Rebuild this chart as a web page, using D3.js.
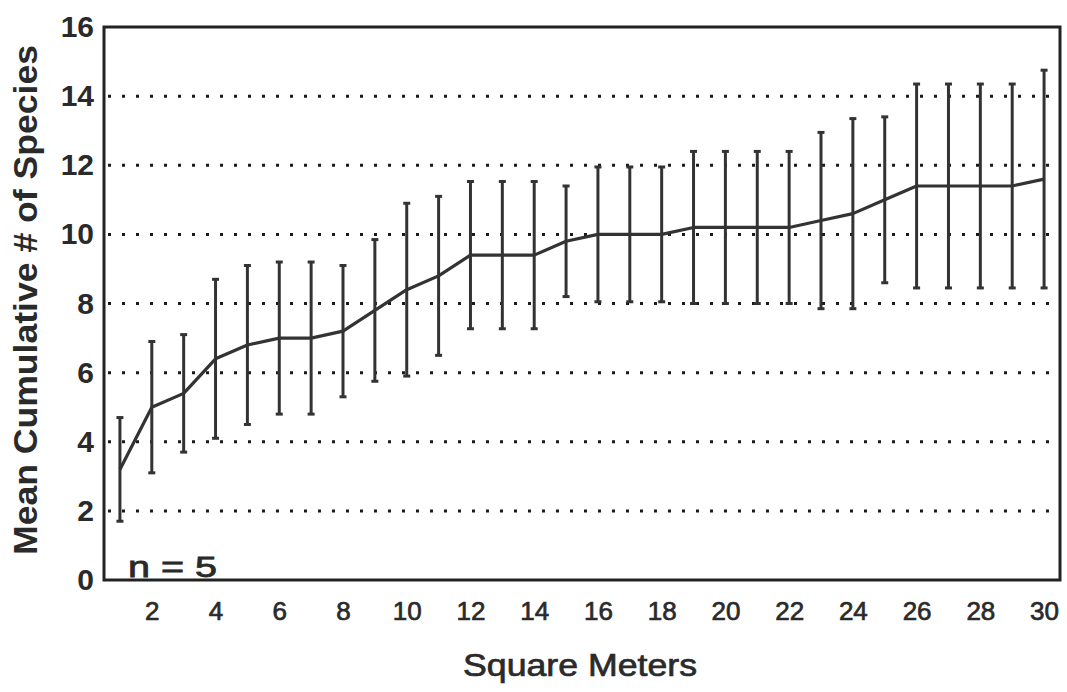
<!DOCTYPE html>
<html>
<head>
<meta charset="utf-8">
<script src="https://cdn.jsdelivr.net/npm/d3@7"></script>
<style>
body { margin: 0; background: #fff; }
text { font-family: "Liberation Sans", Arial, Helvetica, sans-serif; fill: #2a2a2a; }
</style>
</head>
<body>
<svg class="chart"></svg>
<script>
var width = 1067,
    height = 692;

// square meters sampled
var meters = d3.range(1, 31);
// mean cumulative species count (n = 5)
var means = [3.2, 5.0, 5.4, 6.4, 6.8, 7.0, 7.0, 7.2, 7.8, 8.4,
             8.8, 9.4, 9.4, 9.4, 9.8, 10.0, 10.0, 10.0, 10.2, 10.2,
             10.2, 10.2, 10.4, 10.6, 11.0, 11.4, 11.4, 11.4, 11.4, 11.6];
// error bar half-lengths
var errors = [1.5, 1.9, 1.7, 2.3, 2.3, 2.2, 2.2, 1.9, 2.05, 2.5,
              2.3, 2.13, 2.13, 2.13, 1.6, 1.95, 1.95, 1.95, 2.2, 2.2,
              2.2, 2.2, 2.55, 2.75, 2.4, 2.95, 2.95, 2.95, 2.95, 3.15];
var xTicks = [2, 4, 6, 8, 10, 12, 14, 16, 18, 20, 22, 24, 26, 28, 30];
var yTicks = [0, 2, 4, 6, 8, 10, 12, 14, 16];
var gridValues = [2, 4, 6, 8, 10, 12, 14];

var plot = {left: 104, right: 1060, top: 27, bottom: 580};

var x = d3.scaleLinear()
    .domain([0.5, 30.5])
    .range([plot.left, plot.right]);

var y = d3.scaleLinear()
    .domain([0, 16])
    .range([plot.bottom, plot.top]);

var svg = d3.select(".chart")
    .attr("width", width)
    .attr("height", height);

svg.append("rect")
    .attr("width", width)
    .attr("height", height)
    .attr("fill", "#fff");

var data = meters.map(function(m, i) {
    return {x: m, mean: means[i], err: errors[i]};
});

// dotted gridlines
svg.selectAll(".grid")
    .data(gridValues)
  .enter().append("line")
    .attr("class", "grid")
    .attr("x1", plot.left + 4)
    .attr("x2", plot.right)
    .attr("y1", function(d) { return y(d); })
    .attr("y2", function(d) { return y(d); })
    .attr("stroke", "#1a1a1a")
    .attr("stroke-width", 3)
    .attr("stroke-dasharray", "3,11");

// axes, only the labels are shown
var xAxis = svg.append("g")
    .attr("transform", "translate(0," + plot.bottom + ")")
    .call(d3.axisBottom(x).tickValues(xTicks).tickSize(0).tickPadding(22));
xAxis.select(".domain").remove();
xAxis.selectAll("text")
    .style("font-size", "26px")
    .attr("fill", "#2a2a2a")
    .attr("stroke", "#2a2a2a")
    .attr("stroke-width", 0.7);

var yAxis = svg.append("g")
    .attr("transform", "translate(" + (plot.left - 10) + ",0)")
    .call(d3.axisLeft(y).tickValues(yTicks).tickSize(0).tickPadding(0));
yAxis.select(".domain").remove();
yAxis.selectAll("text")
    .style("font-size", "30px")
    .style("font-weight", "bold")
    .attr("fill", "#2a2a2a");

// frame
svg.append("rect")
    .attr("x", plot.left)
    .attr("y", plot.top)
    .attr("width", plot.right - plot.left)
    .attr("height", plot.bottom - plot.top)
    .attr("fill", "none")
    .attr("stroke", "#222")
    .attr("stroke-width", 3);

// error bars
var bars = svg.selectAll(".err")
    .data(data)
  .enter().append("g")
    .attr("class", "err");

bars.append("line")
    .attr("x1", function(d) { return x(d.x); })
    .attr("x2", function(d) { return x(d.x); })
    .attr("y1", function(d) { return y(d.mean + d.err); })
    .attr("y2", function(d) { return y(d.mean - d.err); })
    .attr("stroke", "#333")
    .attr("stroke-width", 3);

bars.selectAll(".cap")
    .data(function(d) { return [d.mean + d.err, d.mean - d.err].map(function(v) { return {x: d.x, v: v}; }); })
  .enter().append("line")
    .attr("class", "cap")
    .attr("x1", function(d) { return x(d.x) - 3.5; })
    .attr("x2", function(d) { return x(d.x) + 3.5; })
    .attr("y1", function(d) { return y(d.v); })
    .attr("y2", function(d) { return y(d.v); })
    .attr("stroke", "#333")
    .attr("stroke-width", 3);

// mean line
var line = d3.line()
    .x(function(d) { return x(d.x); })
    .y(function(d) { return y(d.mean); });

svg.append("path")
    .datum(data)
    .attr("d", line)
    .attr("fill", "none")
    .attr("stroke", "#333")
    .attr("stroke-width", 3.2)
    .attr("stroke-linejoin", "round");

svg.append("text")
    .attr("x", 128)
    .attr("y", 577)
    .style("font-size", "30px")
    .attr("stroke", "#2a2a2a")
    .attr("stroke-width", 0.8)
    .attr("textLength", 89)
    .attr("lengthAdjust", "spacingAndGlyphs")
    .text("n = 5");

svg.append("text")
    .attr("x", 580)
    .attr("y", 676)
    .attr("text-anchor", "middle")
    .style("font-size", "32px")
    .attr("stroke", "#2a2a2a")
    .attr("stroke-width", 0.7)
    .attr("textLength", 234)
    .attr("lengthAdjust", "spacingAndGlyphs")
    .text("Square Meters");

svg.append("text")
    .attr("transform", "translate(37,300) rotate(-90)")
    .attr("text-anchor", "middle")
    .style("font-size", "34px")
    .style("font-weight", "bold")
    .attr("textLength", 510)
    .attr("lengthAdjust", "spacingAndGlyphs")
    .text("Mean Cumulative # of Species");
</script>
</body>
</html>
